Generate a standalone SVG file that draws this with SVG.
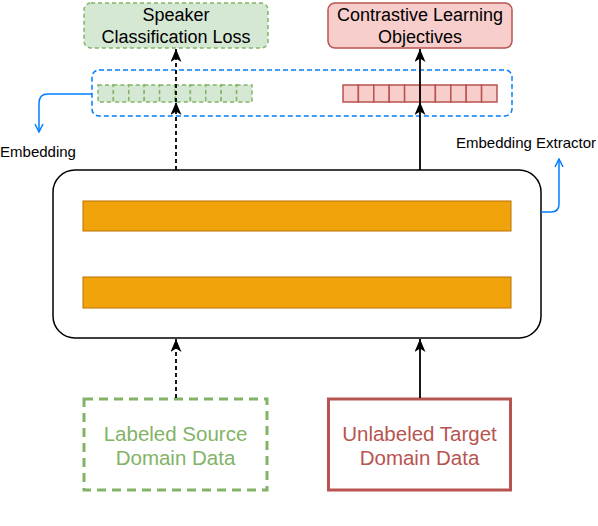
<svg xmlns="http://www.w3.org/2000/svg" width="598" height="526" viewBox="0 0 598 526">
<style>
text{font-family:"Liberation Sans",Arial,sans-serif;text-anchor:middle;}
.t18{font-size:18px;fill:#000;}
.t15{font-size:15px;fill:#000;}
.gcell{fill:#d5e8d4;stroke:#82b366;stroke-width:1.5;stroke-dasharray:4 3;}
.rcell{fill:#f8cecc;stroke:#b85450;stroke-width:1.5;}
.bar{fill:#f0a30a;stroke:#bd7000;stroke-width:1;}
.blk{stroke:#000;stroke-width:1.8;fill:none;}
.dash{stroke-dasharray:4 3;}
.blue{stroke:#007fff;stroke-width:1.5;fill:none;}
</style>
<defs>
<marker id="ah" viewBox="0 0 13 11" refX="13" refY="5.5" markerWidth="13" markerHeight="11" markerUnits="userSpaceOnUse" orient="auto">
<path d="M0,0 L13,5.5 L0,11 L3.5,5.5 z" fill="#000"/>
</marker>
<marker id="ob" viewBox="0 0 10 10" refX="9" refY="5" markerWidth="10" markerHeight="10" markerUnits="userSpaceOnUse" orient="auto">
<path d="M1,1 L9,5 L1,9" fill="none" stroke="#007fff" stroke-width="1.5"/>
</marker>
</defs>

<g id="speaker-loss">
<rect x="84" y="3" width="184" height="45" rx="7" fill="#d5e8d4" stroke="#82b366" stroke-width="1.5" stroke-dasharray="4 3"/>
<text class="t18" x="176" y="21">Speaker</text>
<text class="t18" x="176" y="43">Classification Loss</text>
</g>

<g id="contrastive">
<rect x="328" y="3" width="184" height="45" rx="7" fill="#f8cecc" stroke="#b85450" stroke-width="1.5"/>
<text class="t18" x="420" y="21">Contrastive Learning</text>
<text class="t18" x="420" y="43">Objectives</text>
</g>

<g id="embedding-group">
<rect x="92" y="70" width="420" height="46" rx="7" fill="none" stroke="#007fff" stroke-width="1.5" stroke-dasharray="5 3"/>
</g>

<g id="green-embedding">
<rect class="gcell" x="98" y="85" width="15.4" height="17"/>
<rect class="gcell" x="113.4" y="85" width="15.4" height="17"/>
<rect class="gcell" x="128.8" y="85" width="15.4" height="17"/>
<rect class="gcell" x="144.2" y="85" width="15.4" height="17"/>
<rect class="gcell" x="159.6" y="85" width="15.4" height="17"/>
<rect class="gcell" x="175" y="85" width="15.4" height="17"/>
<rect class="gcell" x="190.4" y="85" width="15.4" height="17"/>
<rect class="gcell" x="205.8" y="85" width="15.4" height="17"/>
<rect class="gcell" x="221.2" y="85" width="15.4" height="17"/>
<rect class="gcell" x="236.6" y="85" width="15.4" height="17"/>
</g>

<g id="red-embedding">
<rect class="rcell" x="343" y="85" width="15.4" height="17"/>
<rect class="rcell" x="358.4" y="85" width="15.4" height="17"/>
<rect class="rcell" x="373.8" y="85" width="15.4" height="17"/>
<rect class="rcell" x="389.2" y="85" width="15.4" height="17"/>
<rect class="rcell" x="404.6" y="85" width="15.4" height="17"/>
<rect class="rcell" x="420" y="85" width="15.4" height="17"/>
<rect class="rcell" x="435.4" y="85" width="15.4" height="17"/>
<rect class="rcell" x="450.8" y="85" width="15.4" height="17"/>
<rect class="rcell" x="466.2" y="85" width="15.4" height="17"/>
<rect class="rcell" x="481.6" y="85" width="15.4" height="17"/>
</g>

<g id="label-embedding">
<text class="t15" x="38" y="157">Embedding</text>
</g>

<g id="label-extractor">
<text class="t15" x="526" y="148">Embedding Extractor</text>
</g>

<g id="extractor">
<rect x="53" y="170" width="488" height="168" rx="22" fill="#fff" stroke="#000" stroke-width="1.5"/>
<rect class="bar" x="83" y="201" width="428" height="30"/>
<rect class="bar" x="83" y="277" width="428" height="31"/>
</g>

<g id="source-data">
<rect x="84" y="399" width="183" height="91" fill="none" stroke="#82b366" stroke-width="3" stroke-dasharray="9 6"/>
<text x="175.5" y="441" font-size="20.5" fill="#82b366">Labeled Source</text>
<text x="175.5" y="465" font-size="20.5" fill="#82b366">Domain Data</text>
</g>

<g id="target-data">
<rect x="328.5" y="399" width="182" height="91" fill="none" stroke="#b85450" stroke-width="3"/>
<text x="419.5" y="441" font-size="20.5" fill="#b85450">Unlabeled Target</text>
<text x="419.5" y="465" font-size="20.5" fill="#b85450">Domain Data</text>
</g>

<g id="connectors">
<line class="blk dash" x1="176" y1="170" x2="176" y2="102" marker-end="url(#ah)"/>
<line class="blk dash" x1="176" y1="102" x2="176" y2="49" marker-end="url(#ah)"/>
<line class="blk" x1="420" y1="170" x2="420" y2="102" marker-end="url(#ah)"/>
<line class="blk" x1="420" y1="102" x2="420" y2="49" marker-end="url(#ah)"/>
<line class="blk dash" x1="176" y1="398" x2="176" y2="339" marker-end="url(#ah)"/>
<line class="blk" x1="420" y1="398" x2="420" y2="339" marker-end="url(#ah)"/>
<path class="blue" d="M92,94 L48,94 Q39,94 39,103 L39,132" marker-end="url(#ob)"/>
<path class="blue" d="M541,212 L551,212 Q559,212 559,204 L559,159" marker-end="url(#ob)"/>
</g>
</svg>
